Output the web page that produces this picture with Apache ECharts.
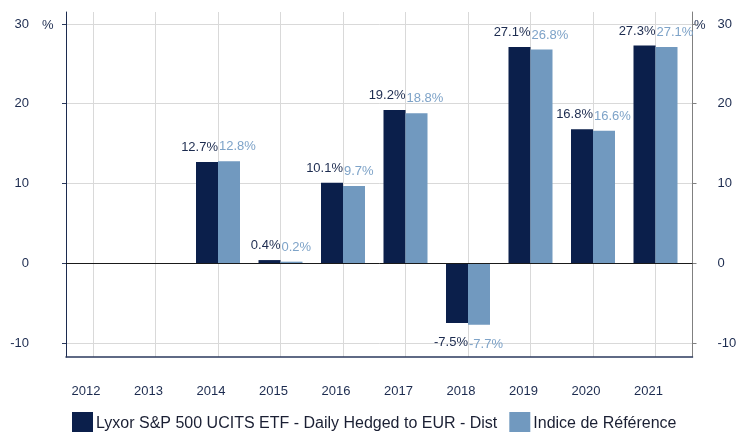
<!DOCTYPE html>
<html>
<head>
<meta charset="utf-8">
<script src="https://cdn.jsdelivr.net/npm/echarts@6.0.0/dist/echarts.min.js"></script>
<style>
  html, body { margin: 0; padding: 0; background: #fff; }
  #main { width: 736px; height: 432px; }
</style>
</head>
<body>
<div id="main"></div>
<script>
// categories (years)
var years = ['2012', '2013', '2014', '2015', '2016', '2017', '2018', '2019', '2020', '2021'];
// fund performance, %
var fundValues = [null, null, 12.7, 0.4, 10.1, 19.2, -7.5, 27.1, 16.8, 27.3];
// benchmark performance, %
var indexValues = [null, null, 12.8, 0.2, 9.7, 18.8, -7.7, 26.8, 16.6, 27.1];
// y tick labels
var yTicks = [-10, 0, 10, 20, 30];

var fundName = 'Lyxor S&P 500 UCITS ETF - Daily Hedged to EUR - Dist';
var indexName = 'Indice de Référence';

var navy = '#0b1f4b';
var light = '#7199bf';
var textNavy = '#1c2b4f';
var gridColor = '#d9d9d9';
var xTicks = years.map(function (y, i) { return i; });

function buildData(values) {
  var out = [];
  values.forEach(function (v, i) {
    if (v === null) return;
    var item = { value: [i, v] };
    if (v < 0) {
      item.label = { position: 'bottom', distance: 13 };
    }
    out.push(item);
  });
  return out;
}

var myChart = echarts.init(document.getElementById('main'));
var option = {
  animation: false,
  grid: {
    left: 66,
    right: 43.5,
    top: 12,
    bottom: 75,
    containLabel: false,
    outerBoundsMode: 'none'
  },
  legend: {
    left: 72,
    top: 412,
    padding: 0,
    itemWidth: 21,
    itemHeight: 24,
    itemGap: 12,
    icon: 'rect',
    textStyle: { fontFamily: 'Liberation Sans', fontSize: 16, color: '#1a1f33', padding: [0, 0, 0, -2] },
    data: [fundName, indexName]
  },
  xAxis: {
    type: 'value',
    min: -0.432,
    max: 9.592,
    axisLine: { onZero: false, lineStyle: { color: '#2b3a5e', width: 1.5 } },
    axisTick: { show: false, customValues: xTicks },
    splitLine: { show: true, lineStyle: { color: gridColor, width: 1 } },
    axisLabel: {
      customValues: xTicks,
      margin: 28,
      padding: [0, 14, 0, 0],
      fontFamily: 'Liberation Sans',
      fontSize: 13,
      color: textNavy,
      formatter: function (v) { return years[Math.round(v)]; }
    }
  },
  yAxis: [{
    type: 'value',
    position: 'left',
    min: -11.75,
    max: 31.5,
    axisLine: { show: true, onZero: false, lineStyle: { color: '#1c2b4f', width: 1 } },
    axisTick: { show: true, length: 4, customValues: yTicks, lineStyle: { color: '#2b3a5e' } },
    splitLine: { show: true, lineStyle: { color: gridColor, width: 1 } },
    axisLabel: {
      customValues: yTicks,
      margin: 37,
      fontFamily: 'Liberation Sans',
      fontSize: 13,
      color: textNavy
    }
  }, {
    type: 'value',
    position: 'right',
    min: -11.75,
    max: 31.5,
    axisLine: { show: true, onZero: false, lineStyle: { color: '#808080', width: 1 } },
    axisTick: { show: true, length: 4, customValues: yTicks, lineStyle: { color: '#808080' } },
    splitLine: { show: false },
    axisLabel: {
      customValues: yTicks,
      margin: 25,
      fontFamily: 'Liberation Sans',
      fontSize: 13,
      color: textNavy
    }
  }],
  graphic: [
    { type: 'text', left: 42, top: 19, style: { text: '%', fontFamily: 'Liberation Sans', fontSize: 13, fill: textNavy } },
    { type: 'text', left: 694, top: 19, style: { text: '%', fontFamily: 'Liberation Sans', fontSize: 13, fill: textNavy } }
  ],
  series: [{
    name: fundName,
    type: 'bar',
    barWidth: 22,
    barGap: '0%',
    itemStyle: { color: navy },
    label: {
      show: true,
      position: 'top',
      distance: 8,
      align: 'right',
      offset: [11, 0],
      fontFamily: 'Liberation Sans',
      fontSize: 13,
      color: textNavy,
      formatter: function (p) { return p.value[1].toFixed(1) + '%'; }
    },
    markLine: {
      silent: true,
      symbol: 'none',
      label: { show: false },
      lineStyle: { color: '#1a1a1a', type: 'solid', width: 1 },
      data: [{ yAxis: 0 }]
    },
    data: buildData(fundValues)
  }, {
    name: indexName,
    type: 'bar',
    barWidth: 22,
    barGap: '0%',
    itemStyle: { color: light },
    label: {
      show: true,
      position: 'top',
      distance: 8,
      align: 'left',
      offset: [-10, 0],
      fontFamily: 'Liberation Sans',
      fontSize: 13,
      color: '#7ea3c8',
      formatter: function (p) { return p.value[1].toFixed(1) + '%'; }
    },
    data: buildData(indexValues)
  }]
};
myChart.setOption(option);
</script>
</body>
</html>
